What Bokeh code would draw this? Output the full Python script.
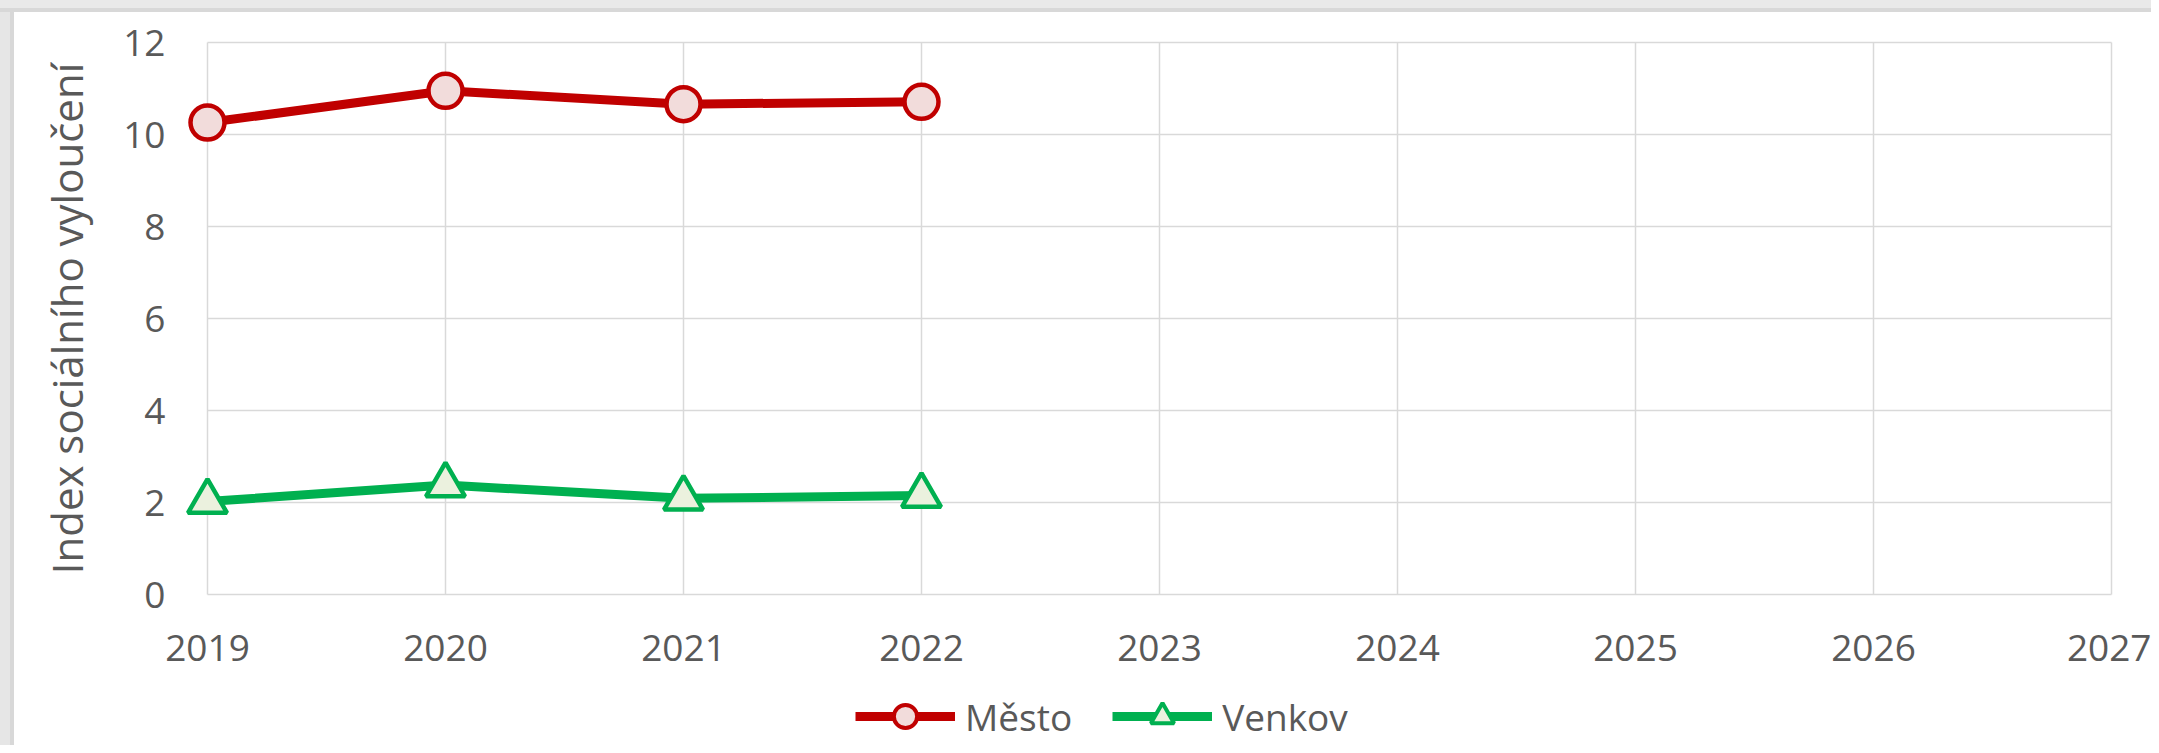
from bokeh.plotting import figure
from bokeh.models import Legend, LegendItem, FixedTicker, Range1d, Spacer
from bokeh.layouts import column, row
from bokeh.embed import file_html
from bokeh.resources import INLINE

years = [2019, 2020, 2021, 2022]
mesto = [10.26, 10.95, 10.66, 10.71]
venkov = [2.02, 2.38, 2.09, 2.15]
x_ticks = [2019, 2020, 2021, 2022, 2023, 2024, 2025, 2026, 2027]
y_ticks = [0, 2, 4, 6, 8, 10, 12]
y_title = "Index sociálního vyloučení"
names = ["Město", "Venkov"]

FONT = "Open Sans"
TXT = "#595959"
GRID = "#D9D9D9"
RED, RED_FILL = "#C00000", "#F2DCDB"
GREEN, GREEN_FILL = "#00B050", "#EBF1DE"

# plot area 1904 x 552 px, padded so that edge markers are not clipped
PAD = 22
x0, x1 = x_ticks[0], x_ticks[-1]
y0, y1 = y_ticks[0], y_ticks[-1]
xpad = PAD * (x1 - x0) / 1904
ypad = PAD * (y1 - y0) / 552

p = figure(width=2137, height=668, output_backend="svg", toolbar_location=None,
           x_range=Range1d(x0 - xpad, x1 + xpad), y_range=Range1d(y0 - ypad, y1 + ypad),
           min_border_left=171, min_border_right=18, min_border_top=8, min_border_bottom=64)
p.background_fill_color = "white"
p.border_fill_color = "white"
p.outline_line_color = None
p.xgrid.grid_line_color = None
p.ygrid.grid_line_color = None

p.xaxis.ticker = FixedTicker(ticks=x_ticks)
p.yaxis.ticker = FixedTicker(ticks=y_ticks)
for ax in (p.xaxis[0], p.yaxis[0]):
    ax.axis_line_color = None
    ax.major_tick_line_color = None
    ax.minor_tick_line_color = None
    ax.major_tick_out = 0
    ax.major_tick_in = 0
    ax.major_label_text_font = FONT
    ax.major_label_text_font_size = "37px"
    ax.major_label_text_color = TXT
p.xaxis.major_label_standoff = 18
p.yaxis.major_label_standoff = 20
p.yaxis.axis_label = y_title
p.yaxis.axis_label_text_font = FONT
p.yaxis.axis_label_text_font_size = "42px"
p.yaxis.axis_label_text_font_style = "normal"
p.yaxis.axis_label_text_color = TXT
p.yaxis.axis_label_standoff = 25

# plot-area grid (bounded to the plot area like the original)
p.segment(x0=x_ticks, y0=[y0] * len(x_ticks), x1=x_ticks, y1=[y1] * len(x_ticks),
          line_color=GRID, line_width=1.5)
p.segment(x0=[x0] * len(y_ticks), y0=y_ticks, x1=[x1] * len(y_ticks), y1=y_ticks,
          line_color=GRID, line_width=1.5)

def draw(fig, lw, ms_c, ms_t, mlw):
    a = fig.line(years, mesto, line_color=RED, line_width=lw)
    b = fig.scatter(years, mesto, marker="circle", size=ms_c, fill_color=RED_FILL,
                    line_color=RED, line_width=mlw)
    c = fig.line(years, venkov, line_color=GREEN, line_width=lw)
    d = fig.scatter(years, venkov, marker="triangle", size=ms_t, fill_color=GREEN_FILL,
                    line_color=GREEN, line_width=mlw)
    return a, b, c, d

draw(p, 9, 34, 39, 4.5)

# legend strip (a second figure so the legend can sit freely below the axis)
lg = figure(width=2137, height=65, output_backend="svg", toolbar_location=None,
            x_range=Range1d(0, 1), y_range=Range1d(0, 1),
            min_border_left=0, min_border_right=0, min_border_top=0, min_border_bottom=0)
lg.axis.visible = False
lg.grid.visible = False
lg.outline_line_color = None
lg.background_fill_color = "white"
lg.border_fill_color = "white"
l1, m1, l2, m2 = draw(lg, 9, 34, 38, 4)

legend = Legend(items=[LegendItem(label=names[0], renderers=[l1, m1]),
                       LegendItem(label=names[1], renderers=[l2, m2])],
                orientation="horizontal", location=(670, 0))
legend.label_text_font = FONT
legend.label_text_font_size = "37px"
legend.label_text_color = TXT
legend.glyph_width = 100
legend.glyph_height = 58
legend.label_standoff = 10
legend.spacing = 40
legend.padding = 0
legend.margin = 0
legend.border_line_color = None
legend.background_fill_alpha = 0
lg.add_layout(legend, "center")

top_band = Spacer(width=2151, height=12, styles={
    "background": "linear-gradient(to bottom, #E9E9E9 0px, #E9E9E9 8px, #D8D8D8 8px, #D8D8D8 12px)"})
left_band = Spacer(width=14, height=733, styles={
    "background": "linear-gradient(to right, #E6E6E6 0px, #E6E6E6 10px, #D8D8D8 10px, #D8D8D8 14px)"})
page = column(top_band, row(left_band, column(p, lg, spacing=0), spacing=0), spacing=0)

open("out.html", "w").write(file_html(page, INLINE))
